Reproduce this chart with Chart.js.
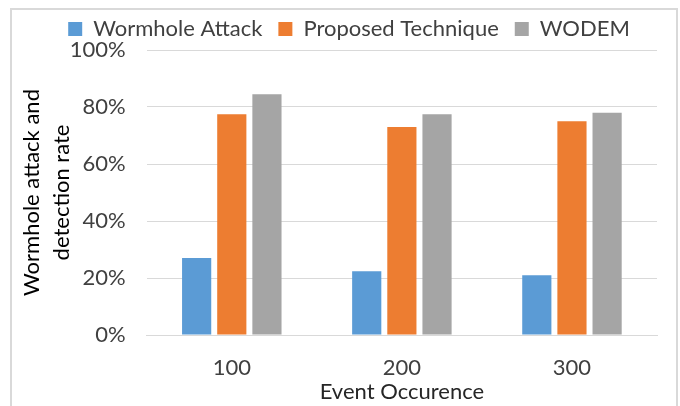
<!DOCTYPE html>
<html>
<head>
<meta charset="utf-8">
<script src="https://cdn.jsdelivr.net/npm/chart.js@4"></script>
<style>
  html, body { margin: 0; padding: 0; background: #ffffff; }
  #wrap { position: relative; width: 680px; height: 406px; overflow: hidden; }
  #frame {
    position: absolute; left: 10px; top: 8px; width: 668px; height: 420px;
    border: 2px solid #d9d9d9; box-sizing: border-box; pointer-events: none;
  }
  canvas { position: absolute; left: 0; top: 0; }
</style>
</head>
<body>
<div id="wrap">
  <canvas id="chart" width="680" height="406"></canvas>
  <div id="frame"></div>
</div>
<script>
// Event counts on the x axis
const categories = ['100', '200', '300'];

// Rates in percent for each series
const wormholeAttack = [27, 22.4, 21];
const proposedTechnique = [77.5, 73, 75];
const wodem = [84.5, 77.5, 78];

const yTicks = [0, 20, 40, 60, 80, 100];

const FONT = 'Lato, "Open Sans", sans-serif';

const barOpts = { categoryPercentage: 0.62, barPercentage: 0.83 };

// Nudge the legend row sideways without touching the plot area
const legendShift = {
  id: 'legendShift',
  afterLayout(chart, args, opts) {
    const lg = chart.legend;
    if (lg) { lg.left += opts.dx; lg.right += opts.dx; }
  }
};

new Chart(document.getElementById('chart'), {
  type: 'bar',
  data: {
    labels: categories,
    datasets: [
      { label: 'Wormhole Attack', data: wormholeAttack, backgroundColor: '#5b9bd5', ...barOpts },
      { label: 'Proposed Technique', data: proposedTechnique, backgroundColor: '#ed7d31', ...barOpts },
      { label: 'WODEM', data: wodem, backgroundColor: '#a5a5a5', ...barOpts }
    ]
  },
  plugins: [legendShift],
  options: {
    responsive: false,
    animation: false,
    devicePixelRatio: 1,
    layout: { padding: { left: 17, right: 23, top: 2, bottom: 1 } },
    plugins: {
      legendShift: { dx: 12 },
      legend: {
        position: 'top',
        labels: {
          boxWidth: 14,
          boxHeight: 14,
          padding: 16,
          color: '#404040',
          font: { family: FONT, size: 22, lineHeight: 1.0 }
        }
      },
      tooltip: { enabled: false }
    },
    scales: {
      x: {
        grid: { display: false, drawTicks: false },
        border: { display: true, color: '#d9d9d9', width: 1 },
        ticks: { color: '#404040', padding: 22, font: { family: FONT, size: 22, lineHeight: 1.0 } },
        title: {
          display: true,
          text: 'Event Occurence',
          color: '#262626',
          padding: { top: -20, bottom: 2 },
          font: { family: FONT, size: 22, lineHeight: 1.0 }
        }
      },
      y: {
        min: 0,
        max: 100,
        afterBuildTicks: (axis) => { axis.ticks = yTicks.map(v => ({ value: v })); },
        grid: { color: '#d9d9d9', lineWidth: 1, drawTicks: false },
        border: { display: false },
        ticks: {
          color: '#404040',
          padding: 21,
          font: { family: FONT, size: 22, lineHeight: 1.0 },
          callback: (v) => v + '%'
        },
        title: {
          display: true,
          text: ['Wormhole attack and', 'detection rate'],
          color: '#000000',
          padding: { top: 0, bottom: -28 },
          font: { family: FONT, size: 22, lineHeight: 1.36 }
        }
      }
    }
  }
});
</script>
</body>
</html>
